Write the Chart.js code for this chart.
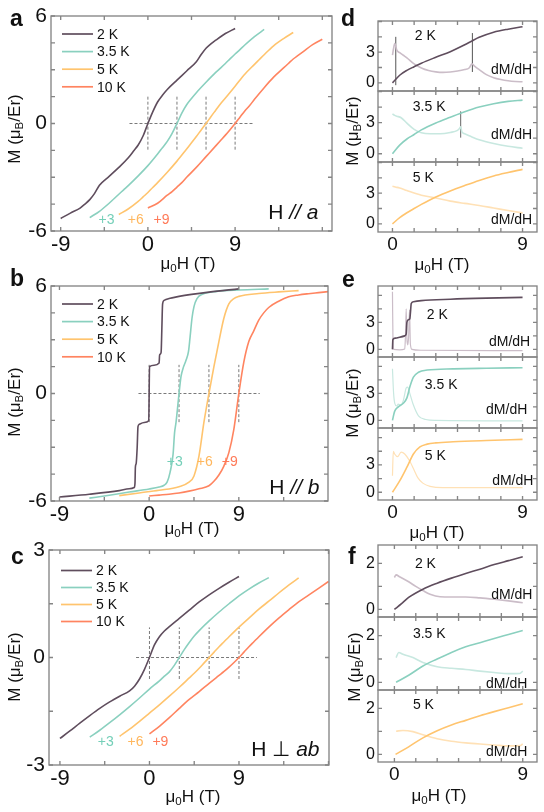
<!DOCTYPE html>
<html>
<head>
<meta charset="utf-8">
<script src="https://cdn.jsdelivr.net/npm/chart.js@4.4.1/dist/chart.umd.min.js"></script>
<style>
  html, body { margin: 0; padding: 0; background: #fff; }
  #fig { position: relative; width: 544px; height: 812px; overflow: hidden;
         font-family: "Liberation Sans", Arial, sans-serif; color: #111; }
  #fig canvas { position: absolute; }
  .lbl { position: absolute; white-space: nowrap; line-height: 1; z-index: 5; }
  .letter { font-weight: bold; font-size: 23px; }
  .ytitle { font-size: 17px; transform: translate(-50%, -50%) rotate(-90deg); }
  .xtitle { font-size: 17px; transform: translate(-50%, -50%); }
  .lbl sub { font-size: 0.68em; vertical-align: -0.3em; line-height: 0; }
</style>
</head>
<body>
<div id="fig">
  <div class="lbl letter" style="left:10px;top:7px">a</div>
  <div class="lbl letter" style="left:10px;top:267px">b</div>
  <div class="lbl letter" style="left:11px;top:545px">c</div>
  <div class="lbl letter" style="left:341px;top:7px">d</div>
  <div class="lbl letter" style="left:342px;top:268px">e</div>
  <div class="lbl letter" style="left:348px;top:545px">f</div>

  <div class="lbl ytitle" style="left:14px;top:129px">M (μ<sub>B</sub>/Er)</div>
  <div class="lbl ytitle" style="left:14px;top:402px">M (μ<sub>B</sub>/Er)</div>
  <div class="lbl ytitle" style="left:14px;top:667px">M (μ<sub>B</sub>/Er)</div>
  <div class="lbl ytitle" style="left:352px;top:131px">M (μ<sub>B</sub>/Er)</div>
  <div class="lbl ytitle" style="left:352px;top:403px">M (μ<sub>B</sub>/Er)</div>
  <div class="lbl ytitle" style="left:354px;top:667px">M (μ<sub>B</sub>/Er)</div>

  <div class="lbl xtitle" style="left:188px;top:263px">μ<sub>0</sub>H (T)</div>
  <div class="lbl xtitle" style="left:192px;top:528px">μ<sub>0</sub>H (T)</div>
  <div class="lbl xtitle" style="left:193px;top:796px">μ<sub>0</sub>H (T)</div>
  <div class="lbl xtitle" style="left:442px;top:264px">μ<sub>0</sub>H (T)</div>
  <div class="lbl xtitle" style="left:437px;top:532px">μ<sub>0</sub>H (T)</div>
  <div class="lbl xtitle" style="left:439px;top:795px">μ<sub>0</sub>H (T)</div>
</div>
<script>
// ---- series labels / colours ----
const tempLabels = ["2 K", "3.5 K", "5 K", "10 K"];
const shifts = [0, 3, 6, 9];
const shiftLabels = ["+3", "+6", "+9"];

// ---- panel a : H // a ----
const hA = [-9, -8, -7, -6.5, -6, -5.5, -5, -4, -3, -2, -1.5, -1, -0.5, 0, 0.5, 1, 1.5, 2, 3, 4, 5, 5.5, 6, 6.5, 7, 8, 9];
const mA2K = [-5.3, -5.0, -4.72, -4.5, -4.25, -3.9, -3.45, -2.95, -2.45, -1.9, -1.55, -1.2, -0.7, 0, 0.65, 1.2, 1.58, 1.9, 2.42, 2.93, 3.45, 3.85, 4.2, 4.45, 4.65, 5.02, 5.3];
const mA35K = [-5.25, -4.9, -4.45, -4.2, -3.95, -3.7, -3.45, -2.92, -2.35, -1.7, -1.35, -1.0, -0.55, 0, 0.58, 1.05, 1.4, 1.72, 2.3, 2.85, 3.35, 3.62, 3.88, 4.12, 4.38, 4.85, 5.25];
const mA5K = [-5.08, -4.76, -4.35, -4.1, -3.85, -3.57, -3.3, -2.72, -2.1, -1.42, -1.08, -0.73, -0.36, 0, 0.38, 0.74, 1.1, 1.42, 2.08, 2.75, 3.3, 3.57, 3.84, 4.1, 4.35, 4.74, 5.08];
const mA10K = [-4.72, -4.45, -4.0, -3.8, -3.55, -3.3, -3.0, -2.45, -1.85, -1.25, -0.95, -0.65, -0.33, 0, 0.35, 0.7, 1.0, 1.35, 2.0, 2.6, 3.1, 3.35, 3.6, 3.8, 4.0, 4.4, 4.7];

// ---- panel b : H // b ----
const hB2K = [-9, -6, -3, -2, -1.5, -1.42, -1.38, -1.3, -1.2, -1.12, -1.0, -0.5, -0.04, 0.04, 0.5, 1.0, 1.05, 1.2, 1.27, 1.35, 1.5, 2, 3, 6, 9];
const mB2K = [-5.78, -5.62, -5.42, -5.32, -5.25, -5.0, -4.1, -3.9, -3.0, -1.85, -1.72, -1.62, -1.52, 1.5, 1.58, 1.7, 2.15, 2.3, 3.5, 5.0, 5.2, 5.3, 5.42, 5.66, 5.84];
const hB35K = [-9, -7, -5, -3, -2, -1.5, -1.2, -0.9, -0.6, -0.45, -0.3, 0, 0.2, 0.4, 0.7, 0.95, 1.1, 1.3, 1.5, 1.8, 2.4, 3.8, 6, 9];
const mB35K = [-5.84, -5.68, -5.5, -5.33, -5.22, -5.12, -4.95, -4.4, -3.4, -2.2, -1.6, 0, 0.95, 1.4, 1.85, 2.35, 3.1, 4.2, 4.85, 5.3, 5.55, 5.7, 5.78, 5.84];
const hB5K = [-9, -7, -5, -3, -2, -1.5, -1, -0.5, 0, 0.5, 1, 1.5, 2, 2.5, 3, 5, 7, 9];
const mB5K = [-5.7, -5.55, -5.4, -5.2, -4.95, -4.6, -3.5, -1.6, 0, 1.5, 2.9, 4.2, 5.0, 5.3, 5.42, 5.58, 5.67, 5.74];
const hB10K = [-9, -8, -7, -6, -5, -4, -3, -2.5, -2, -1.5, -1, -0.5, 0, 0.5, 1, 1.5, 2, 2.5, 3, 4, 5, 6, 7, 8, 9];
const mB10K = [-5.72, -5.67, -5.62, -5.55, -5.45, -5.32, -5.15, -4.9, -4.55, -4.05, -3.3, -2.0, 0, 1.75, 2.9, 3.5, 4.1, 4.5, 4.8, 5.15, 5.4, 5.5, 5.57, 5.63, 5.69];

// ---- panel c : H perpendicular ab ----
const hC = [-9, -8, -7, -6, -5, -4, -3, -2, -1.5, -1, -0.5, 0, 0.5, 1, 1.5, 2, 3, 4, 5, 6, 7, 8, 9];
const mC2K = [-2.26, -2.05, -1.83, -1.62, -1.42, -1.24, -1.08, -0.93, -0.8, -0.6, -0.33, 0, 0.35, 0.58, 0.74, 0.86, 1.09, 1.32, 1.55, 1.75, 1.93, 2.1, 2.26];
const mC35K = [-2.22, -2.03, -1.82, -1.6, -1.37, -1.13, -0.88, -0.65, -0.52, -0.4, -0.22, 0, 0.22, 0.42, 0.6, 0.75, 1.02, 1.27, 1.5, 1.72, 1.91, 2.08, 2.23];
const mC5K = [-2.2, -2.0, -1.78, -1.55, -1.32, -1.08, -0.83, -0.57, -0.44, -0.3, -0.15, 0, 0.15, 0.3, 0.44, 0.58, 0.85, 1.1, 1.35, 1.57, 1.8, 2.02, 2.22];
const mC10K = [-2.13, -1.92, -1.68, -1.42, -1.17, -0.95, -0.72, -0.5, -0.39, -0.27, -0.14, 0, 0.15, 0.3, 0.44, 0.58, 0.85, 1.1, 1.33, 1.55, 1.74, 1.93, 2.12];

// ---- panel d : H // a, M and dM/dH (0-9 T) ----
const hD2K = [0, 0.5, 1, 1.5, 2, 3, 4, 5, 5.5, 6, 7, 8, 9];
const mD2K = [0, 0.74, 1.22, 1.58, 1.92, 2.5, 3.05, 3.72, 4.1, 4.45, 4.95, 5.25, 5.48];
const hD2Kd = [0, 0.08, 0.16, 0.3, 0.5, 0.75, 1.0, 1.5, 2, 2.5, 3, 3.5, 4, 4.5, 5, 5.3, 5.5, 5.7, 6, 6.5, 7, 7.5, 8, 8.5, 9];
const dD2K = [2.7, 3.4, 3.85, 3.2, 2.95, 2.7, 2.45, 1.85, 1.45, 1.2, 1.07, 1.02, 1.06, 1.15, 1.3, 1.45, 1.85, 1.6, 1.3, 0.8, 0.5, 0.32, 0.2, 0.13, 0.1];
const hD35K = [0, 0.5, 1, 1.5, 2, 3, 4, 5, 6, 7, 8, 9];
const mD35K = [0, 0.83, 1.42, 1.85, 2.3, 2.97, 3.52, 4.05, 4.5, 4.82, 5.05, 5.17];
const hD35Kd = [0, 0.15, 0.3, 0.6, 1, 1.5, 2, 2.6, 3.3, 4.0, 4.5, 4.65, 4.72, 4.8, 5.0, 5.5, 6, 7, 8, 9];
const dD35K = [3.85, 3.7, 3.62, 3.47, 2.95, 2.35, 2.02, 1.92, 1.92, 2.05, 2.25, 2.45, 2.6, 2.1, 1.92, 1.62, 1.35, 0.99, 0.72, 0.53];
const hD5K = [0, 0.5, 1, 1.5, 2, 3, 4, 5, 6, 7, 8, 9];
const mD5K = [0, 0.6, 1.08, 1.5, 1.9, 2.62, 3.22, 3.75, 4.25, 4.68, 5.02, 5.33];
const hD5Kd = [0, 0.2, 0.5, 1, 2, 3, 4, 5, 6, 7, 8, 9];
const dD5K = [3.67, 3.6, 3.5, 3.25, 2.8, 2.52, 2.22, 2.0, 1.8, 1.55, 1.3, 1.07];
const dTrans2K = [0.23, 5.53];
const dTrans35K = [4.72];

// ---- panel e : H // b ----
const hE2K = [0, 0.03, 0.2, 0.5, 0.85, 0.95, 1.0, 1.1, 1.2, 1.25, 1.3, 1.45, 2, 4, 6.5, 9];
const mE2K = [0, 1.1, 1.25, 1.35, 1.5, 1.7, 3.0, 3.3, 3.4, 4.2, 5.1, 5.3, 5.42, 5.58, 5.7, 5.78];
const hE2Kd = [0, 0.04, 0.1, 0.5, 0.85, 0.9, 0.95, 1.0, 1.06, 1.12, 1.18, 1.24, 1.35, 2, 9];
const dE2K = [6.4, 0.6, 0.0, -0.05, 0.05, 1.5, 4.5, 1.2, 0.5, 1.5, 4.4, 0.6, 0.0, -0.1, -0.15];
const hE35K = [0, 0.15, 0.4, 0.75, 1.0, 1.2, 1.45, 1.8, 2.4, 4.2, 6.5, 9];
const mE35K = [0, 1.0, 1.5, 1.9, 2.5, 3.7, 4.8, 5.35, 5.6, 5.73, 5.8, 5.86];
const hE35Kd = [0, 0.08, 0.16, 0.3, 0.4, 0.55, 0.75, 0.95, 1.05, 1.2, 1.45, 1.8, 2.3, 3, 9];
const dE35K = [5.75, 3.0, 1.9, 1.6, 1.8, 1.7, 2.2, 3.6, 3.7, 3.0, 1.7, 0.5, 0.1, 0, -0.05];
const hE5K = [0, 0.5, 1.0, 1.45, 1.9, 2.4, 3, 4.2, 6.5, 9];
const mE5K = [0, 1.24, 2.75, 4.2, 4.98, 5.28, 5.42, 5.54, 5.68, 5.8];
const hE5Kd = [0, 0.06, 0.15, 0.35, 0.6, 0.85, 1.2, 1.45, 1.75, 2.1, 2.6, 3.5, 9];
const dE5K = [1.8, 4.5, 4.2, 3.9, 4.4, 4.2, 3.4, 2.6, 1.6, 1.0, 0.65, 0.5, 0.5];

// ---- panel f : H perpendicular ab ----
const hF2K = [0, 0.5, 1, 2, 3, 4, 5, 6, 7, 8, 9];
const mF2K = [0, 0.25, 0.52, 0.88, 1.14, 1.36, 1.56, 1.75, 1.95, 2.12, 2.29];
const hF2Kd = [0, 0.12, 0.36, 1, 1.5, 2, 2.5, 3.2, 4, 5, 6, 7, 8, 9];
const dF2K = [1.39, 1.5, 1.42, 1.2, 1.0, 0.82, 0.66, 0.55, 0.54, 0.54, 0.5, 0.44, 0.37, 0.29];
const hF35K = [0.12, 1, 2, 3, 4, 5, 6, 7, 8, 9];
const mF35K = [0, 0.3, 0.7, 1.0, 1.28, 1.52, 1.7, 1.88, 2.05, 2.22];
const hF35Kd = [0.12, 0.3, 0.6, 1.3, 2, 3, 4, 5, 6, 7, 8, 8.8, 9];
const dF35K = [1.06, 1.28, 1.2, 1.06, 0.85, 0.67, 0.6, 0.55, 0.48, 0.42, 0.37, 0.38, 0.48];
const hF5K = [0.08, 1, 2, 3, 4, 5, 6, 7, 8, 9];
const mF5K = [0, 0.33, 0.72, 1.03, 1.28, 1.48, 1.68, 1.86, 2.03, 2.2];
const hF5Kd = [0.12, 0.6, 1.3, 2, 3, 4, 5, 6, 7, 8, 8.8, 9];
const dF5K = [1.01, 1.04, 0.99, 0.85, 0.68, 0.57, 0.5, 0.45, 0.41, 0.37, 0.38, 0.46];

// ---- tick marks and labels ----
const wideX = [-9, -4.5, 0, 4.5, 9, 13.5, 18], wideXLabels = [-9, 0, 9];
const yTicksAB = [-6, -4.5, -3, -1.5, 0, 1.5, 3, 4.5, 6], yLabelsAB = [-6, 0, 6];
const yTicksC = [-3, -1.5, 0, 1.5, 3], yLabelsC = [-3, 0, 3];
const narrowX = [0, 1.5, 3, 4.5, 6, 7.5, 9], narrowXLabels = [0, 9];
const yTicksDE = [0, 1.5, 3, 4.5, 6], yLabelsDE = [0, 3];
const yTicksF = [0, 1, 2], yLabelsF = [0, 2];

// ---- styling ----
const FONT = '"Liberation Sans", Arial, sans-serif';
const mainColors = ["#5f4d5d", "#8ad0bf", "#ffc46e", "#ff8460"];
const lightColors = ["#cbbdc8", "#c8e8e0", "#ffe1b6"];
const shiftColors = ["#74cfb8", "#ffb75e", "#ff7a58"];
Chart.defaults.font.family = FONT;
Chart.defaults.color = "#111";

const fig = document.getElementById("fig");

function curve(hs, ms, color, label, shift = 0, width = 1.6) {
  return {
    label: label,
    data: hs.map((h, i) => ({ x: h + shift, y: ms[i] })),
    borderColor: color,
    borderWidth: width,
    pointRadius: 0,
    cubicInterpolationMode: "monotone",
    fill: false,
  };
}

function segment(x1, y1, x2, y2, color, dash) {
  return {
    data: [{ x: x1, y: y1 }, { x: x2, y: y2 }],
    borderColor: color,
    borderWidth: 1,
    borderDash: dash || [],
    pointRadius: 0,
    fill: false,
  };
}

// dashed zero line plus one short dashed marker at each shifted origin
function crosshair(x1, x2, ylo, yhi) {
  const out = [segment(x1, 0, x2, 0, "#7a7a7a", [3, 2])];
  shifts.forEach((s) => out.push(segment(s, ylo, s, yhi, "#7a7a7a", [3, 2])));
  return out;
}

function mtCurves(hs, list) {
  return list.map((m, i) => {
    const d = curve(hs[i], m, mainColors[i], tempLabels[i], shifts[i]);
    d.inLegend = true;
    return d;
  });
}

function shiftNotes(xs, y) {
  return shiftLabels.map((t, i) => ({
    parts: [{ t: t }], x: xs[i], y: y, size: 14, color: shiftColors[i], align: "center",
  }));
}

// frame, inward ticks, in-plot notes and the small line legend
const framePlugin = {
  id: "frame",
  afterDatasetsDraw(chart, args, opts) {
    const { ctx, chartArea: a } = chart;
    const xs = chart.scales.x, ys = chart.scales.y;
    ctx.save();
    ctx.strokeStyle = "#858585";
    ctx.lineWidth = 1.35;
    ctx.beginPath();
    xs.ticks.forEach((t) => {
      const p = xs.getPixelForValue(t.value);
      ctx.moveTo(p, a.bottom); ctx.lineTo(p, a.bottom - 4);
      ctx.moveTo(p, a.top); ctx.lineTo(p, a.top + 4);
    });
    ys.ticks.forEach((t) => {
      const p = ys.getPixelForValue(t.value);
      ctx.moveTo(a.left, p); ctx.lineTo(a.left + 4, p);
      ctx.moveTo(a.right, p); ctx.lineTo(a.right - 4, p);
    });
    ctx.stroke();
    ctx.strokeRect(a.left, a.top, a.width, a.height);

    (opts.notes || []).forEach((n) => {
      let px = xs.getPixelForValue(n.x);
      const py = ys.getPixelForValue(n.y);
      ctx.textBaseline = "middle";
      const fonts = n.parts.map((s) => (s.it ? "italic " : "") + n.size + "px " + FONT);
      const widths = n.parts.map((s, i) => { ctx.font = fonts[i]; return ctx.measureText(s.t).width; });
      const total = widths.reduce((p, q) => p + q, 0);
      if (n.align === "right") px -= total;
      if (n.align === "center") px -= total / 2;
      ctx.fillStyle = n.color || "#111";
      n.parts.forEach((s, i) => { ctx.font = fonts[i]; ctx.fillText(s.t, px, py); px += widths[i]; });
    });

    if (opts.legend) {
      const L = opts.legend;
      chart.data.datasets.filter((d) => d.inLegend).forEach((d, i) => {
        const y = a.top + L.dy + i * L.step;
        ctx.strokeStyle = d.borderColor;
        ctx.lineWidth = 1.7;
        ctx.beginPath();
        ctx.moveTo(a.left + L.dx, y);
        ctx.lineTo(a.left + L.dx + L.len, y);
        ctx.stroke();
        ctx.fillStyle = "#111";
        ctx.font = L.size + "px " + FONT;
        ctx.textBaseline = "middle";
        ctx.fillText(d.label, a.left + L.dx + L.len + 4, y + 1);
      });
    }
    ctx.restore();
  },
};

function axis(dir, s, size, show) {
  return {
    type: "linear",
    min: s.min,
    max: s.max,
    grid: { display: false, drawTicks: false },
    border: { display: false },
    afterBuildTicks: (sc) => {
      sc.ticks = s.ticks.filter((v) => v >= s.min && v <= s.max).map((v) => ({ value: v }));
    },
    afterFit: (sc) => {
      if (dir === "x") sc.height = size; else sc.width = size;
    },
    ticks: {
      display: show,
      autoSkip: false,
      maxRotation: 0,
      padding: s.pad,
      color: "#111",
      font: { size: s.font },
      callback: (v) => (s.labels.includes(v) ? String(v) : ""),
    },
  };
}

function makePlot(p) {
  const padL = p.padL, padT = 22, padR = 14, padB = p.showX ? 40 : 22;
  const w = p.box.r - p.box.l + padL + padR;
  const h = p.box.b - p.box.t + padT + padB;
  const cv = document.createElement("canvas");
  cv.width = w;
  cv.height = h;
  cv.style.left = p.box.l - padL + "px";
  cv.style.top = p.box.t - padT + "px";
  cv.style.width = w + "px";
  cv.style.height = h + "px";
  fig.appendChild(cv);
  return new Chart(cv, {
    type: "line",
    data: { datasets: p.datasets },
    options: {
      responsive: false,
      animation: false,
      events: [],
      layout: { padding: { left: 0, top: padT, right: padR, bottom: 0 } },
      plugins: {
        legend: { display: false },
        tooltip: { enabled: false },
        frame: { notes: p.notes || [], legend: p.legend },
      },
      scales: {
        x: axis("x", p.x, padB, p.showX),
        y: axis("y", p.y, padL, true),
      },
    },
    plugins: [framePlugin],
  });
}

const legendOpts = { dx: 11, dy: 18, step: 17.6, len: 31, size: 14 };

// ---- left column ----
makePlot({
  box: { l: 51, t: 16, r: 332, b: 231 }, padL: 50, showX: true,
  x: { min: -10, max: 19, ticks: wideX, labels: wideXLabels, font: 22, pad: 1 },
  y: { min: -6, max: 6, ticks: yTicksAB, labels: yLabelsAB, font: 21, pad: 4 },
  datasets: [...mtCurves([hA, hA, hA, hA], [mA2K, mA35K, mA5K, mA10K]), ...crosshair(-1.9, 10.8, -1.46, 1.57)],
  legend: legendOpts,
  notes: [...shiftNotes([-4.27, -1.26, 1.41], -5.39),
    { parts: [{ t: "H " }, { t: "//", it: true }, { t: " a", it: true }], x: 17.6, y: -5.0, size: 21, align: "right" }],
});

makePlot({
  box: { l: 51, t: 286, r: 328, b: 501 }, padL: 50, showX: true,
  x: { min: -9.85, max: 17.95, ticks: wideX, labels: wideXLabels, font: 22, pad: 1 },
  y: { min: -6, max: 6, ticks: yTicksAB, labels: yLabelsAB, font: 21, pad: 4 },
  datasets: [...mtCurves([hB2K, hB35K, hB5K, hB10K], [mB2K, mB35K, mB5K, mB10K]), ...crosshair(-1.07, 11.1, -1.6, 1.6)],
  legend: legendOpts,
  notes: [...shiftNotes([2.57, 5.58, 8.09], -3.82),
    { parts: [{ t: "H " }, { t: "//", it: true }, { t: " b", it: true }], x: 17.1, y: -5.29, size: 21, align: "right" }],
});

makePlot({
  box: { l: 49, t: 550, r: 329, b: 765 }, padL: 50, showX: true,
  x: { min: -10.1, max: 18.05, ticks: wideX, labels: wideXLabels, font: 22, pad: 1 },
  y: { min: -3, max: 3, ticks: yTicksC, labels: yLabelsC, font: 21, pad: 4 },
  datasets: [...mtCurves([hC, hC, hC, hC], [mC2K, mC35K, mC5K, mC10K]), ...crosshair(-1.35, 10.8, -0.6, 0.84)],
  legend: { dx: 12, dy: 20.5, step: 17, len: 31, size: 14 },
  notes: [...shiftNotes([-4.39, -1.41, 1.1], -2.35),
    { parts: [{ t: "H ⊥ " }, { t: "ab", it: true }], x: 17.1, y: -2.58, size: 21, align: "right" }],
});

// ---- right column: three stacked sub-panels each ----
function dmNote(x, y) {
  return { parts: [{ t: "dM/dH" }], x: x, y: y, size: 14, align: "right" };
}
function tNote(i, x, y) {
  return { parts: [{ t: tempLabels[i] }], x: x, y: y, size: 14, align: "left" };
}

function stack(tops, xr, yr, yTicks, yLabels, subs) {
  subs.forEach((s, i) => {
    const last = i === subs.length - 1;
    makePlot({
      box: { l: 378, t: tops[i], r: 537, b: tops[i + 1] }, padL: 30, showX: last,
      x: { min: xr[0], max: xr[1], ticks: narrowX, labels: narrowXLabels, font: 19, pad: 1 },
      y: { min: yr[0], max: yr[1], ticks: yTicks, labels: yLabels, font: 16, pad: 3 },
      datasets: s.datasets,
      notes: s.notes,
    });
  });
}

stack([21, 91, 162, 232], [-1, 10], [-0.8, 6.05], yTicksDE, yLabelsDE, [
  {
    datasets: [curve(hD2K, mD2K, mainColors[0], tempLabels[0]), curve(hD2Kd, dD2K, lightColors[0], "dM/dH"),
      segment(dTrans2K[0], -0.23, dTrans2K[0], 4.5, "#555"), segment(dTrans2K[1], 1.06, dTrans2K[1], 4.87, "#555")],
    notes: [tNote(0, 1.55, 4.52), dmNote(9.67, 1.24)],
  },
  {
    datasets: [curve(hD35K, mD35K, mainColors[1], tempLabels[1]), curve(hD35Kd, dD35K, lightColors[1], "dM/dH"),
      segment(dTrans35K[0], 1.55, dTrans35K[0], 4.09, "#666")],
    notes: [tNote(1, 1.41, 4.5), dmNote(9.67, 1.78)],
  },
  {
    datasets: [curve(hD5K, mD5K, mainColors[2], tempLabels[2]), curve(hD5Kd, dD5K, lightColors[2], "dM/dH")],
    notes: [tNote(2, 1.41, 4.45), dmNote(9.67, 0.37)],
  },
]);

stack([286, 357, 428, 500], [-1, 10], [-0.85, 7.05], yTicksDE, yLabelsDE, [
  {
    datasets: [curve(hE2K, mE2K, mainColors[0], tempLabels[0]), curve(hE2Kd, dE2K, lightColors[0], "dM/dH", 0, 1.2)],
    notes: [tNote(0, 2.38, 3.83), dmNote(9.53, 0.84)],
  },
  {
    datasets: [curve(hE35K, mE35K, mainColors[1], tempLabels[1]), curve(hE35Kd, dE35K, lightColors[1], "dM/dH", 0, 1.2)],
    notes: [tNote(1, 2.24, 3.94), dmNote(9.33, 1.17)],
  },
  {
    datasets: [curve(hE5K, mE5K, mainColors[2], tempLabels[2]), curve(hE5Kd, dE5K, lightColors[2], "dM/dH", 0, 1.2)],
    notes: [tNote(2, 2.24, 3.93), dmNote(9.75, 1.27)],
  },
]);

stack([545, 617, 690, 762], [-1.15, 10], [-0.33, 2.8], yTicksF, yLabelsF, [
  {
    datasets: [curve(hF2K, mF2K, mainColors[0], tempLabels[0]), curve(hF2Kd, dF2K, lightColors[0], "dM/dH")],
    notes: [tNote(0, 1.44, 1.97), dmNote(9.68, 0.64)],
  },
  {
    datasets: [curve(hF35K, mF35K, mainColors[1], tempLabels[1]), curve(hF35Kd, dF35K, lightColors[1], "dM/dH")],
    notes: [tNote(1, 1.3, 2.08), dmNote(9.32, -0.07)],
  },
  {
    datasets: [curve(hF5K, mF5K, mainColors[2], tempLabels[2]), curve(hF5Kd, dF5K, lightColors[2], "dM/dH")],
    notes: [tNote(2, 1.3, 2.15), dmNote(9.32, 0.08)],
  },
]);
</script>
</body>
</html>
